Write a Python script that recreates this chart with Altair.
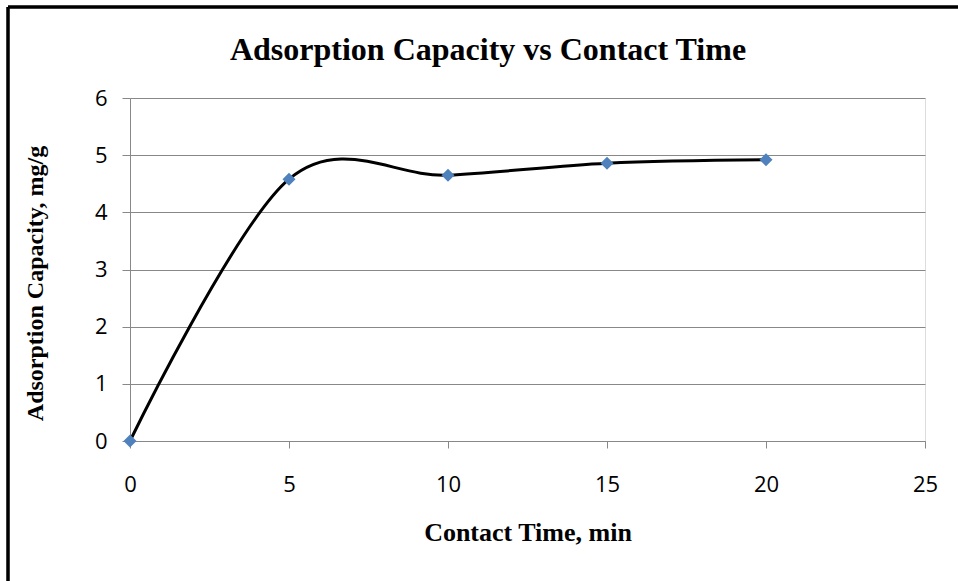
import altair as alt
import pandas as pd

# Data
contact_time = [0, 5, 10, 15, 20]
capacity = [0.0, 4.58, 4.65, 4.86, 4.92]

x_ticks = [0, 5, 10, 15, 20, 25]
y_ticks = [0, 1, 2, 3, 4, 5, 6]
chart_title = ["Adsorption Capacity vs Contact Time"]

df = pd.DataFrame({"time": contact_time, "cap": capacity})
title_df = pd.DataFrame({"t": chart_title})

GREY = "#888888"
SERIF = "Liberation Serif"
SANS = "Open Sans"

x_enc = alt.X(
    "time:Q",
    scale=alt.Scale(domain=[0, 25], nice=False, zero=False),
    axis=alt.Axis(
        values=x_ticks, title="Contact Time, min", grid=False, format="d",
        labelFlush=False,
        domainColor=GREY, tickColor=GREY, tickSize=7, labelPadding=26,
        labelFont=SANS, labelFontSize=22, labelColor="black",
        titleFont=SERIF, titleFontSize=26, titleFontWeight="bold",
        titleColor="black", titlePadding=24,
    ),
)
y_enc = alt.Y(
    "cap:Q",
    scale=alt.Scale(domain=[0, 6], nice=False),
    axis=alt.Axis(
        values=y_ticks, title="Adsorption Capacity, mg/g", grid=True, format="d",
        labelFlush=False,
        gridColor=GREY, domainColor=GREY, tickColor=GREY, tickSize=8,
        labelPadding=15, labelFont=SANS, labelFontSize=22, labelColor="black",
        titleFont=SERIF, titleFontSize=24, titleFontWeight="bold",
        titleColor="black", titlePadding=47, titleY=185,
    ),
)

line = alt.Chart(df).mark_line(
    interpolate="cardinal", color="black", strokeWidth=3
).encode(x=x_enc, y=y_enc)

points = alt.Chart(df).mark_point(
    shape="diamond", filled=True, color="#4F81BD", size=170, opacity=1
).encode(x="time:Q", y="cap:Q")

title_text = alt.Chart(title_df).mark_text(
    font=SERIF, fontSize=32, fontWeight="bold", color="black",
    align="center", baseline="alphabetic",
).encode(text="t:N", x=alt.value(358), y=alt.value(-38))

border_top = alt.Chart(df).mark_rule(color="black", strokeWidth=2.5).encode(
    x=alt.value(-122), x2=alt.value(900), y=alt.value(-91)
)
border_left = alt.Chart(df).mark_rule(color="black", strokeWidth=2.5).encode(
    x=alt.value(-122), y=alt.value(-91), y2=alt.value(600)
)

chart = alt.layer(border_top, border_left, line, points, title_text).properties(
    width=795,
    height=343,
    autosize=alt.AutoSizeParams(type="none"),
    padding={"left": 130, "top": 98, "right": 33, "bottom": 140},
).configure_view(stroke=None).configure(background="white")

chart.save("out.html", embed_options={"renderer": "svg", "actions": False})
